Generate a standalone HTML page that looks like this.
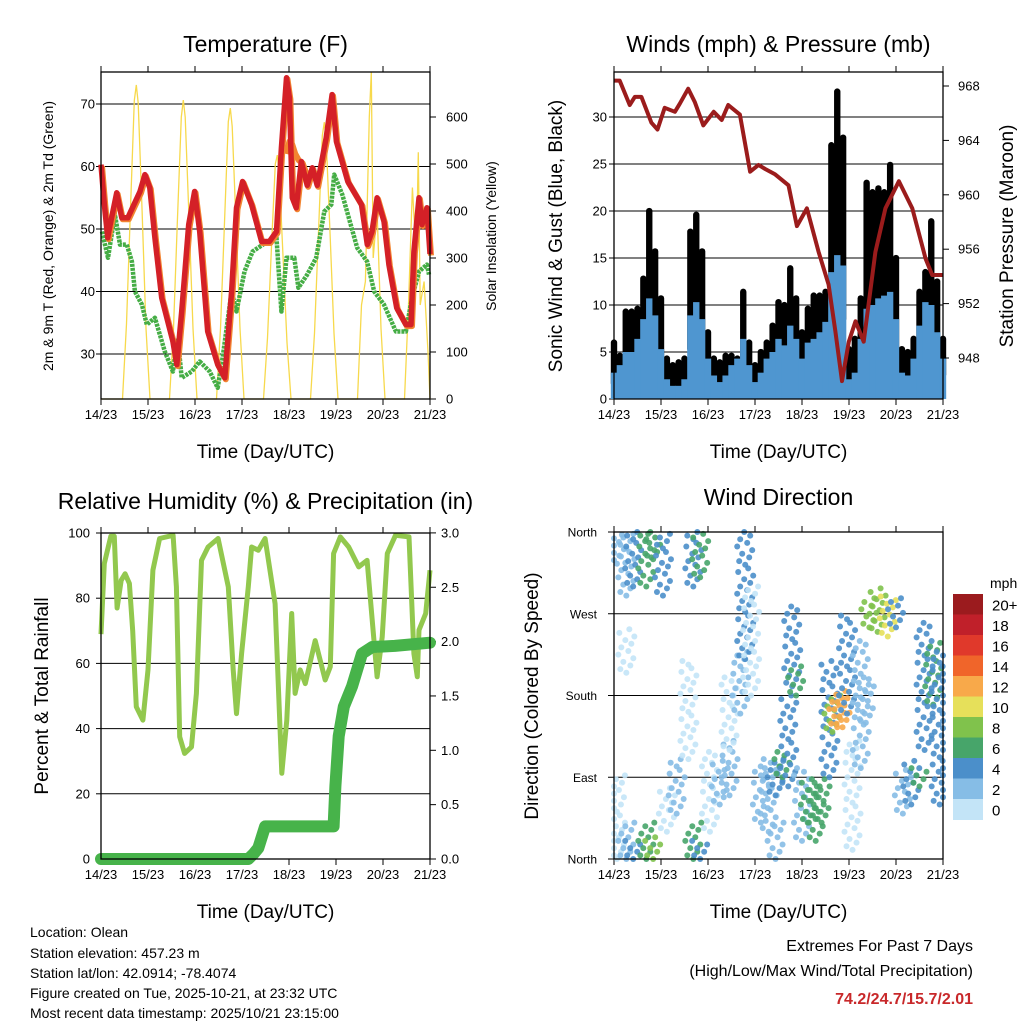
<!DOCTYPE html>
<html><head><meta charset="utf-8">
<style>
html,body{margin:0;padding:0;background:#fff;}
svg{display:block;font-family:"Liberation Sans",sans-serif;}
</style></head>
<body>
<svg id="chart" width="1024" height="1024" viewBox="0 0 1024 1024" xmlns="http://www.w3.org/2000/svg">
<rect width="1024" height="1024" fill="#fff"/>
<g id="g1"></g>
<g id="g2"></g>
<g id="g3"></g>
<g id="g4"></g>
<g font-size="14" fill="#000">
<text x="30" y="937">Location: Olean</text>
<text x="30" y="958">Station elevation: 457.23 m</text>
<text x="30" y="978">Station lat/lon: 42.0914; -78.4074</text>
<text x="30" y="998">Figure created on Tue, 2025-10-21, at 23:32 UTC</text>
<text x="30" y="1018">Most recent data timestamp: 2025/10/21 23:15:00</text>
</g>
<g text-anchor="end">
<text x="973" y="951" font-size="16">Extremes For Past 7 Days</text>
<text x="973" y="976" font-size="16">(High/Low/Max Wind/Total Precipitation)</text>
<text x="973" y="1004" font-size="16" font-weight="bold" fill="#c8282a">74.2/24.7/15.7/2.01</text>
</g>
</svg>
<script>
// ---------- DATA ----------
const dayLabels = ["14/23","15/23","16/23","17/23","18/23","19/23","20/23","21/23"];
const tempH = [0,1.7,3.4,4,8,10.6,13.7,19.9,22.4,24.9,27.5,31,36.7,38.7,41.2,44.8,47.8,50.4,54.5,59.6,63.2,66.7,69.2,72.3,76.9,82,86,89.6,92.1,94.7,96.2,97.7,99.7,102.3,105.3,107.9,110.4,115,118,120.2,126,133,136,138.4,141,144.5,147,151,155.7,158.3,159.8,162.4,163.9,166.4,168];
const tempRed = [60.3,54,48.6,49.6,55.8,51.8,51.8,56,58.7,56.6,48.6,39,32,28.3,36.8,50.7,56,49.6,33.6,28.3,26.2,40,53.4,57.6,53.9,48,48,49.6,63,74.2,71,55,53.4,60.8,57,59.8,57,64.6,71.5,64,57.6,53.9,47.5,49.6,55,51.2,44.3,37.4,34.7,34.7,46.4,55,50.7,53.4,46];
const orangeH = [94.7,96.2,97.7,99.2,101,103,105.3];
const orangeT = [62,64,63.5,62,61,60.5,58.5];
const dewH = [0.5,3.6,7.1,9.7,13.2,15.8,17.3,20.9,23.4,27.5,32.6,36.7,39.2,41.2,46.3,50.4,55.5,59.6,62.1,66.7,69.2,73.3,77.4,85,89.6,92.1,94.7,98.7,100.8,105.3,109.9,114,117.6,119.1,123.2,130.8,135.9,139.5,144.5,150.6,155.7,158.8,162.4,166.4,167.5];
const dewT = [49.6,45.4,52.3,47.5,47.5,44.8,40,37.9,34.7,35.8,30.4,27.2,32.5,26.2,27.2,28.8,27.2,24.6,29.4,40,36.8,43.2,46.4,48,48.6,36.8,45.4,45.4,40.6,42.7,45.4,52.8,53.9,58.7,55.5,47,44.8,40,37.9,33.6,33.6,39,43.2,44.3,42.7];
const solarH = [0,11,13,15,17,18,19,21,23,25,35,37,39,41,42,43,45,47,49,59,61,63,65,66,67,69,71,73,83,85,87,89,90,91,93,95,97,107,109,111,113,114,115,117,119,121,131,133,135,137,138,139,141,143,145,155,157,159,161,162,163,165,167,168];
const solarV = [0,0,160,400,635,668,630,400,150,0,0,150,380,600,636,600,380,150,0,0,150,370,590,619,580,370,150,0,0,130,320,500,519,480,300,120,0,0,140,350,560,589,550,350,140,0,0,200,250,600,695,300,400,150,0,0,200,450,300,525,200,250,100,0];
const presH = [0,2.9,8,10.6,14,19.1,22.2,25.9,31.1,33.6,37.9,41.3,45.6,50.9,55,58.3,64.3,69.5,73.8,77.2,82.3,89.1,93.4,98.5,104.5,109.6,113,116.4,119.9,123.3,127.5,133.5,138.6,145.5,152.3,159.1,162.5,168];
const presV = [968.4,968.4,966.6,967.2,967.2,965.3,964.8,966.4,966.1,966.7,967.8,966.8,965.1,966.1,965.5,966.6,965.9,961.7,962.2,961.9,961.5,960.7,957.7,959,955.8,953.4,950,946.3,949.2,950.7,949.2,955.8,959,961,959,955.3,954.1,954.1];
const gustMax = [6,4.6,9.3,9.3,9.6,12.8,20,15.7,10.7,4.3,3.6,3.9,4.3,17.8,19.6,15.7,7.1,4.3,3.9,4.6,4.6,4.3,11.4,6,3.6,5,6,7.8,10.3,10,13.9,10.7,7.1,9.6,11,11,11.4,27,32.7,27.8,5.3,6.4,10.7,23,22,22.4,22,24.9,15,5.3,5,6.4,11.4,13.5,18.9,12.5,6.4];
const windMax = [2.8,3.6,5,5,6.4,8.5,10.7,8.9,5.3,2.1,1.4,1.4,2.1,8.9,10.3,8.5,4.3,2.5,1.8,2.5,3.6,4.3,6.4,3.6,1.8,2.8,4.3,5,6.4,5.7,7.8,6.4,4.3,6,6.4,7.1,8.2,13.5,15.3,14.2,2.1,2.8,6.4,9.6,10,10.7,11,11.4,8.5,2.8,2.5,4.3,7.8,10.3,10,7.1,4.3];
const rhH = [0,1.7,5,6.8,8.2,10.3,12.3,14.5,16.2,18,21.4,24,26.5,29.9,36.8,38.5,40.2,42.7,46.2,48.7,51.3,54.7,59.8,65,67.5,69.2,71.8,75.2,76.9,80.3,83.8,88.9,92.3,94.9,97.4,99.1,101.7,104.3,109.4,114.5,117.1,118.8,122.2,126.5,131.6,135.9,137.6,141,143.6,146.2,150.4,157.3,159.8,161.5,162.4,165.8,168];
const rhV = [69,90.6,99,99,77,85.5,87.5,84.5,70,46.7,42.6,58,88.6,98.3,99.3,83.5,37.5,32.4,34.4,50.8,91.6,95.7,98.3,83.5,58,44.6,63,83.5,95.7,94.7,98.3,78.3,26.3,42.6,75.3,50.8,58,53.8,67,54.9,59,93.7,98.8,95.7,89.6,91.6,79.4,55.9,68.1,93.7,99.3,98.8,63,55.9,70.2,75.3,88.6];
const pcpH = [0,70,75.2,78,80.3,83.8,118.8,119.7,121.4,124,128.2,133.3,138.5,150,168];
const pcpV = [0,0,0,0.05,0.1,0.3,0.3,0.67,1.13,1.4,1.59,1.89,1.95,1.96,1.99];
const dirH  = [1.5,1.5,6.3,6.3,6.3,9.8,9.8,16.5,16.5,20,20,25,27,32,38,40.5,40.5,44,44,49,54,59,59,64.5,67,70,75,79,82.5,82.5,86,89,91,93,96,99.5,103,106,110,111.5,114,116.7,119,121.8,126,128.6,130.4,134.6,139.8,144,147.5,151.8,156,158.6,163,166.3];
const dirLo = [0,325,0,290,205,300,0,300,0,0,330,290,30,50,110,0,300,310,0,30,60,70,120,160,220,180,40,30,70,0,90,80,190,180,20,40,20,40,90,140,145,145,160,10,100,150,255,250,245,255,50,60,80,120,170,60];
const dirHi = [95,360,40,360,255,360,20,360,40,25,360,360,80,110,220,40,360,360,20,120,110,130,200,230,360,300,100,110,110,40,120,180,280,215,100,90,80,90,220,180,185,180,270,130,240,200,290,300,290,290,100,110,100,260,240,230];
const dirSpd = [1,3,3,3,1,4,4,6,7,8,7,4,1,2,1,6,5,6,5,1,2,2,1,3,4,1,2,3,4,2,6,4,4,7,2,6,6,7,4,8,12,13,4,1,2,3,8,9,10,4,3,4,7,5,7,4];
const spdBins = ["0","2","4","6","8","10","12","14","16","18","20+"];
const spdColors = ["#c3e4f7","#86bde6","#4b8fca","#47a56a","#80c24c","#e6e05a","#f8a94a","#f0652a","#e0392b","#c0202a","#9b1b1e"];

// ---------- HELPERS ----------
const NS="http://www.w3.org/2000/svg";
function mk(parent, tag, attrs, txt){
  const e=document.createElementNS(NS,tag);
  for(const k in attrs) e.setAttribute(k,attrs[k]);
  if(txt!==undefined) e.textContent=txt;
  parent.appendChild(e); return e;
}
function timeX(p,h){return p.x0+h/168*(p.x1-p.x0);}
function path(p,hs,vs,yf){let d="";for(let i=0;i<hs.length;i++){d+=(i?"L":"M")+timeX(p,hs[i]).toFixed(1)+","+yf(vs[i]).toFixed(1);}return d;}
function frame(g,p,title,titleY){
  const t=mk(g,"text",{x:(p.x0+p.x1)/2,y:titleY,"font-size":"23","text-anchor":"middle"},title);
  
  
  for(let i=0;i<dayLabels.length;i++){
    const x=p.x0+i*(p.x1-p.x0)/7;
    mk(g,"line",{x1:x,y1:p.y1,x2:x,y2:p.y1+6,stroke:"#000","stroke-width":1});
    mk(g,"line",{x1:x,y1:p.y0,x2:x,y2:p.y0-6,stroke:"#000","stroke-width":1});
    const l=mk(g,"text",{x:x,y:p.y1+20,"font-size":"13","text-anchor":"middle"},dayLabels[i]);
    
    
  }
  const xt=mk(g,"text",{x:(p.x0+p.x1)/2,y:p.y1+59,"font-size":"19","text-anchor":"middle"},"Time (Day/UTC)");
  
  
}
function border(g,p){
  const r=mk(g,"rect",{x:p.x0,y:p.y0,width:p.x1-p.x0,height:p.y1-p.y0,fill:"none",stroke:"#000","stroke-width":1.3});
  
  
}
function hgrid(g,p,y){mk(g,"line",{x1:p.x0,y1:y,x2:p.x1,y2:y,stroke:"#000","stroke-width":1});}
function ylab(g,x,y,txt,anchor,size){
  const t=mk(g,"text",{x:x,y:y+4.5,"font-size":size||13,"text-anchor":anchor},txt);
  
  
}
function vtitle(g,x,y,txt,size,name){
  const t=mk(g,"text",{x:0,y:0,"font-size":size,"text-anchor":"middle",transform:`translate(${x},${y}) rotate(-90)`},txt);
  
  
}

// ---------- PANEL 1 ----------
(function(){
  const g=document.getElementById("g1");
  const p={x0:101,x1:430,y0:72,y1:399};
  const ty=T=>354-(T-30)*6.25, sy=v=>399-v*0.47;
  frame(g,p,"Temperature (F)",52);
  [30,40,50,60,70].forEach(v=>{hgrid(g,p,ty(v));ylab(g,95,ty(v),String(v),"end");mk(g,"line",{x1:p.x0,y1:ty(v),x2:p.x0-5,y2:ty(v),stroke:"#000"});});
  [0,100,200,300,400,500,600].forEach(v=>{ylab(g,446,sy(v),String(v),"start");mk(g,"line",{x1:p.x1,y1:sy(v),x2:p.x1+6,y2:sy(v),stroke:"#000"});});
  const solar=mk(g,"path",{d:path(p,solarH,solarV,sy),fill:"none",stroke:"#f7d94c","stroke-width":1.3});
  
  
  const dew=mk(g,"path",{d:path(p,dewH,dewT,ty),fill:"none",stroke:"#45ad45","stroke-width":4.5,"stroke-dasharray":"3 1","stroke-linejoin":"round"});
  
  
  const or1=mk(g,"path",{d:path(p,tempH,tempRed,ty),fill:"none",stroke:"#f28431","stroke-width":6,"stroke-linejoin":"round",transform:"translate(1,1.5)"});
  
  
  const or2=mk(g,"path",{d:path(p,orangeH,orangeT,ty),fill:"none",stroke:"#f28431","stroke-width":6,"stroke-linejoin":"round"});
  
  
  const red=mk(g,"path",{d:path(p,tempH,tempRed,ty),fill:"none",stroke:"#d42027","stroke-width":5.5,"stroke-linejoin":"round"});
  
  
  border(g,p);
  vtitle(g,53,236,"2m & 9m T (Red, Orange) & 2m Td (Green)",14,"y-axis-title-left");
  vtitle(g,496,236,"Solar Insolation (Yellow)",14,"y-axis-title-right");
})();

// ---------- PANEL 2 ----------
(function(){
  const g=document.getElementById("g2");
  const p={x0:614,x1:943,y0:72,y1:399};
  const wy=s=>399-s*9.4, py=m=>86+(968-m)*13.6;
  frame(g,p,"Winds (mph) & Pressure (mb)",52);
  [5,10,15,20,25,30].forEach(v=>hgrid(g,p,wy(v)));
  [0,5,10,15,20,25,30].forEach(v=>{ylab(g,607,wy(v),String(v),"end");mk(g,"line",{x1:p.x0,y1:wy(v),x2:p.x0-5,y2:wy(v),stroke:"#000"});});
  [948,952,956,960,964,968].forEach(v=>{ylab(g,958,py(v),String(v),"start");mk(g,"line",{x1:p.x1,y1:py(v),x2:p.x1+6,y2:py(v),stroke:"#000"});});
  const step=(p.x1-p.x0)/56;
  for(let i=0;i<gustMax.length;i++){
    const x=timeX(p,i*3);
    const b=mk(g,"line",{x1:x,y1:wy(windMax[i]*0.6),x2:x,y2:wy(gustMax[i]),stroke:"#000","stroke-width":step+0.5,"stroke-linecap":"round"});
    
    
  }
  for(let i=0;i<windMax.length;i++){
    const x=timeX(p,i*3);
    const b=mk(g,"line",{x1:x,y1:wy(0),x2:x,y2:wy(windMax[i]),stroke:"#4f96d0","stroke-width":step+0.5});
    
    
  }
  const pr=mk(g,"path",{d:path(p,presH,presV,py),fill:"none",stroke:"#9b1c1c","stroke-width":4,"stroke-linejoin":"round"});
  
  
  border(g,p);
  vtitle(g,562,236,"Sonic Wind & Gust (Blue, Black)",19,"y-axis-title-left");
  vtitle(g,1013,236,"Station Pressure (Maroon)",19,"y-axis-title-right");
})();

// ---------- PANEL 3 ----------
(function(){
  const g=document.getElementById("g3");
  const p={x0:101,x1:430,y0:533,y1:859};
  const ry=v=>859-v*3.26, iy=v=>859-v*108.7;
  frame(g,p,"Relative Humidity (%) & Precipitation (in)",509);
  [20,40,60,80].forEach(v=>hgrid(g,p,ry(v)));
  [0,20,40,60,80,100].forEach(v=>{ylab(g,90,ry(v),String(v),"end");mk(g,"line",{x1:p.x0,y1:ry(v),x2:p.x0-5,y2:ry(v),stroke:"#000"});});
  ["0.0","0.5","1.0","1.5","2.0","2.5","3.0"].forEach((t,i)=>{const y=iy(i*0.5);ylab(g,441,y,t,"start");mk(g,"line",{x1:p.x1,y1:y,x2:p.x1+6,y2:y,stroke:"#000"});});
  const rh=mk(g,"path",{d:path(p,rhH,rhV,ry),fill:"none",stroke:"#92c84e","stroke-width":5,"stroke-linejoin":"round"});
  
  
  const pc=mk(g,"path",{d:path(p,pcpH,pcpV,iy),fill:"none",stroke:"#47b34a","stroke-width":12,"stroke-linejoin":"round","stroke-linecap":"round"});
  
  
  border(g,p);
  vtitle(g,48,696,"Percent & Total Rainfall",19,"y-axis-title-left");
})();

// ---------- PANEL 4 ----------
(function(){
  const g=document.getElementById("g4");
  const p={x0:614,x1:943,y0:532,y1:859};
  const dy=d=>859-d*(327/360);
  frame(g,p,"Wind Direction",505);
  ["North","East","South","West","North"].forEach((t,i)=>{const y=dy(i*90);if(i>0&&i<4)hgrid(g,p,y);ylab(g,597,y,t,"end",12);mk(g,"line",{x1:p.x0,y1:y,x2:p.x0-6,y2:y,stroke:"#000"});});
  const offs=[0,-6,4,-3,7,-8,2,-5,5,-1,8,-7,3];
  for(let i=0;i<dirH.length;i++){
    const bin=Math.min(10,Math.floor(dirSpd[i]/2));
    const col=spdColors[bin];
    const x=timeX(p,dirH[i]);
    let k=0;
    for(let d=dirLo[i]; d<=dirHi[i]; d+=4){
      const xx=Math.max(p.x0,Math.min(p.x1,x+offs[k%offs.length]));
      const c=mk(g,"circle",{cx:xx,cy:dy(d),r:3,fill:col,"fill-opacity":0.9});
      
      
      k++;
    }
  }
  border(g,p);
  vtitle(g,538,696,"Direction (Colored By Speed)",19,"y-axis-title-left");
  const cb=mk(g,"g",{});
  
  
  const mt=mk(cb,"text",{x:990,y:588,"font-size":"14"},"mph");
  
  
  const bh=20.5, top=594;
  for(let i=0;i<spdBins.length;i++){
    const j=spdBins.length-1-i;
    const y=top+i*bh;
    const r=mk(cb,"rect",{x:953,y:y,width:30,height:bh+0.5,fill:spdColors[j]});
    
    
    const t=mk(cb,"text",{x:992,y:y+bh/2+6,"font-size":"15"},spdBins[j]);
    
    
  }
})();
</script>
</body></html>
